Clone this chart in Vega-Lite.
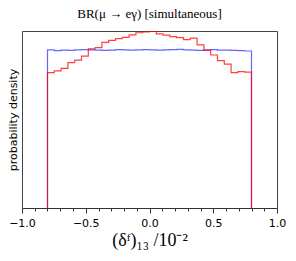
{
  "$schema": "https://vega.github.io/schema/vega-lite/v6.json",
  "autosize": "none",
  "width": 255,
  "height": 177,
  "padding": {"left": 22, "top": 31, "right": 19, "bottom": 53},
  "config": {
    "view": {"stroke": "#444", "strokeWidth": 1},
    "font": "DejaVu Sans"
  },
  "title": {
    "text": "BR(μ → eγ) [simultaneous]",
    "font": "Liberation Serif",
    "fontSize": 13,
    "fontWeight": "normal",
    "color": "#000",
    "offset": 8
  },
  "datasets": {
    "blue": [
      {"i": 0, "x": -0.8, "y": 0},
      {"i": 1, "x": -0.8, "y": 0.625},
      {"i": 2, "x": -0.7467, "y": 0.622},
      {"i": 3, "x": -0.6933, "y": 0.624},
      {"i": 4, "x": -0.64, "y": 0.623},
      {"i": 5, "x": -0.5867, "y": 0.625},
      {"i": 6, "x": -0.5333, "y": 0.626},
      {"i": 7, "x": -0.48, "y": 0.625},
      {"i": 8, "x": -0.4267, "y": 0.624},
      {"i": 9, "x": -0.3733, "y": 0.623},
      {"i": 10, "x": -0.32, "y": 0.624},
      {"i": 11, "x": -0.2667, "y": 0.626},
      {"i": 12, "x": -0.2133, "y": 0.625},
      {"i": 13, "x": -0.16, "y": 0.624},
      {"i": 14, "x": -0.1067, "y": 0.625},
      {"i": 15, "x": -0.0533, "y": 0.626},
      {"i": 16, "x": 0.0, "y": 0.625},
      {"i": 17, "x": 0.0533, "y": 0.624},
      {"i": 18, "x": 0.1067, "y": 0.625},
      {"i": 19, "x": 0.16, "y": 0.626},
      {"i": 20, "x": 0.2133, "y": 0.627},
      {"i": 21, "x": 0.2667, "y": 0.625},
      {"i": 22, "x": 0.32, "y": 0.624},
      {"i": 23, "x": 0.3733, "y": 0.623},
      {"i": 24, "x": 0.4267, "y": 0.625},
      {"i": 25, "x": 0.48, "y": 0.626},
      {"i": 26, "x": 0.5333, "y": 0.624},
      {"i": 27, "x": 0.5867, "y": 0.624},
      {"i": 28, "x": 0.64, "y": 0.623},
      {"i": 29, "x": 0.6933, "y": 0.622},
      {"i": 30, "x": 0.7467, "y": 0.621},
      {"i": 31, "x": 0.8, "y": 0.621},
      {"i": 32, "x": 0.8, "y": 0}
    ],
    "red": [
      {"i": 0, "x": -0.8, "y": 0},
      {"i": 1, "x": -0.8, "y": 0.535},
      {"i": 2, "x": -0.7467, "y": 0.542},
      {"i": 3, "x": -0.6933, "y": 0.552},
      {"i": 4, "x": -0.64, "y": 0.575},
      {"i": 5, "x": -0.5867, "y": 0.585},
      {"i": 6, "x": -0.5333, "y": 0.601},
      {"i": 7, "x": -0.48, "y": 0.629},
      {"i": 8, "x": -0.4267, "y": 0.634},
      {"i": 9, "x": -0.3733, "y": 0.655},
      {"i": 10, "x": -0.32, "y": 0.663},
      {"i": 11, "x": -0.2667, "y": 0.670},
      {"i": 12, "x": -0.2133, "y": 0.675},
      {"i": 13, "x": -0.16, "y": 0.685},
      {"i": 14, "x": -0.1067, "y": 0.693},
      {"i": 15, "x": -0.0533, "y": 0.696},
      {"i": 16, "x": 0.0, "y": 0.698},
      {"i": 17, "x": 0.0533, "y": 0.689},
      {"i": 18, "x": 0.1067, "y": 0.684},
      {"i": 19, "x": 0.16, "y": 0.678},
      {"i": 20, "x": 0.2133, "y": 0.674},
      {"i": 21, "x": 0.2667, "y": 0.666},
      {"i": 22, "x": 0.32, "y": 0.672},
      {"i": 23, "x": 0.3733, "y": 0.645},
      {"i": 24, "x": 0.4267, "y": 0.623},
      {"i": 25, "x": 0.48, "y": 0.605},
      {"i": 26, "x": 0.5333, "y": 0.583},
      {"i": 27, "x": 0.5867, "y": 0.569},
      {"i": 28, "x": 0.64, "y": 0.535},
      {"i": 29, "x": 0.6933, "y": 0.539},
      {"i": 30, "x": 0.7467, "y": 0.537},
      {"i": 31, "x": 0.8, "y": 0.537},
      {"i": 32, "x": 0.8, "y": 0}
    ]
  },
  "encoding": {
    "x": {
      "field": "x",
      "type": "quantitative",
      "scale": {"domain": [-1, 1], "nice": false, "zero": false},
      "axis": {
        "values": [-1, -0.9, -0.8, -0.7, -0.6, -0.5, -0.4, -0.3, -0.2, -0.1, 0, 0.1, 0.2, 0.3, 0.4, 0.5, 0.6, 0.7, 0.8, 0.9, 1],
        "labelExpr": "abs(datum.value*2 - round(datum.value*2)) < 0.001 ? format(datum.value, '.1f') : ''",
        "tickSize": {"condition": {"test": "abs(datum.value*2 - round(datum.value*2)) < 0.001", "value": 5}, "value": 3},
        "tickColor": "#333",
        "domainColor": "#333",
        "grid": false,
        "labelFont": "DejaVu Sans",
        "labelFontSize": 11,
        "labelColor": "#000",
        "labelPadding": 4,
        "labelFlush": false,
        "title": "(δᶠ)₁₃ /10⁻²",
        "titleFont": "Liberation Serif",
        "titleFontSize": 18,
        "titleFontWeight": "normal",
        "titleColor": "#000",
        "titlePadding": 3
      }
    },
    "y": {
      "field": "y",
      "type": "quantitative",
      "scale": {"domain": [0, 0.7], "nice": false},
      "axis": {
        "labels": false,
        "ticks": false,
        "domain": false,
        "grid": false,
        "title": "probability density",
        "titleFont": "DejaVu Sans",
        "titleFontSize": 11,
        "titleFontWeight": "normal",
        "titleColor": "#000",
        "titlePadding": 4
      }
    },
    "order": {"field": "i", "type": "quantitative"}
  },
  "layer": [
    {
      "data": {"name": "blue"},
      "mark": {"type": "line", "interpolate": "step-after", "color": "#0000ff", "opacity": 0.6, "strokeWidth": 1.2}
    },
    {
      "data": {"name": "red"},
      "mark": {"type": "line", "interpolate": "step-after", "color": "#ff0000", "opacity": 0.75, "strokeWidth": 1.2}
    }
  ]
}
